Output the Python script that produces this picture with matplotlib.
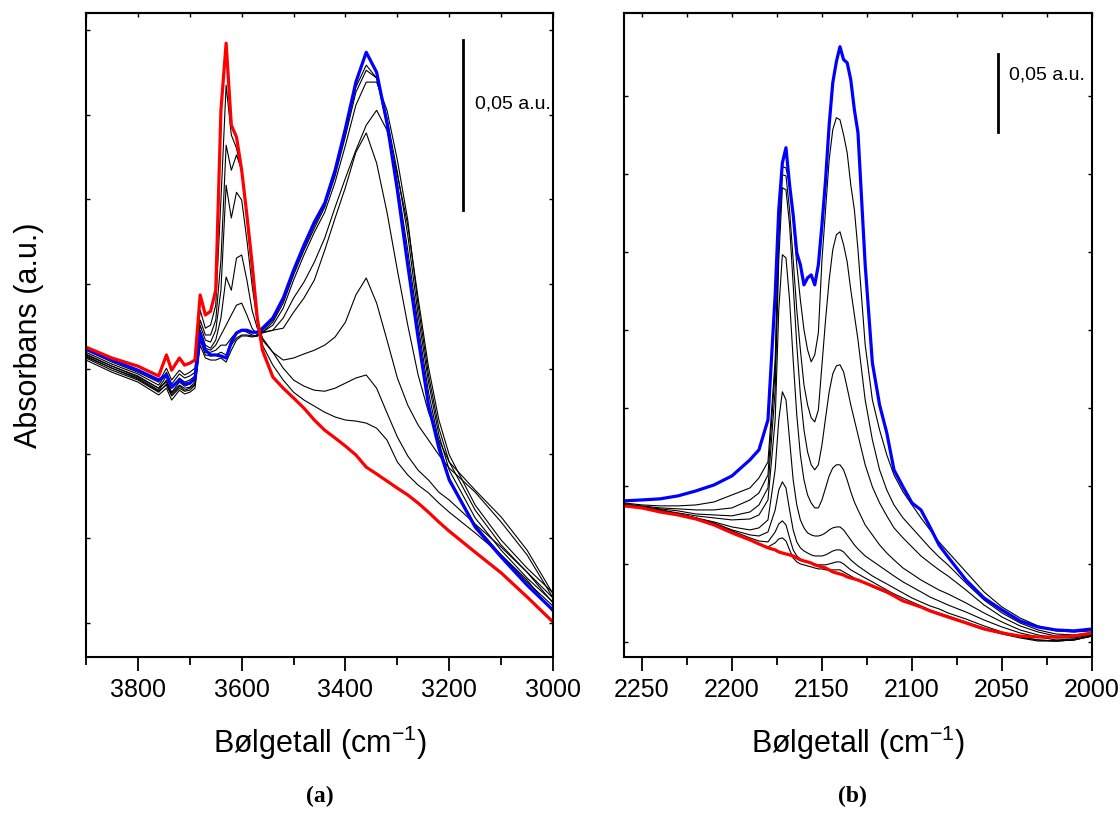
import numpy as np
import matplotlib.pyplot as plt

plt.rcParams['font.family'] = ['Liberation Sans', 'DejaVu Sans']
plt.rcParams['mathtext.default'] = 'regular'

# ---- (a) OH region: wavenumber (cm-1), absorbance in 1e-3 a.u. ----
wn_a = [3900, 3850, 3800, 3760, 3745, 3735, 3720, 3710, 3700, 3690,
        3680, 3670, 3660, 3650, 3640, 3630, 3620, 3610, 3600, 3590,
        3580, 3570, 3560, 3540, 3520, 3500, 3480, 3460, 3440, 3420,
        3400, 3380, 3360, 3340, 3320, 3300, 3280, 3260, 3240, 3220,
        3200, 3150, 3100, 3050, 3000]

red_a = [81.4, 78.2, 75.8, 72.9, 79.1, 74.6, 78.2, 76.1, 76.7, 77.6,
         96.8, 90.9, 92.0, 98.2, 151.3, 171.1, 146.9, 143.4, 133.6, 120.4,
         106.2, 90.0, 80.5, 72.6, 69.3, 66.4, 63.4, 59.9, 56.9, 54.6,
         52.2, 49.6, 46.0, 44.0, 41.9, 39.8, 37.8, 35.4, 32.7, 29.8,
         27.1, 20.9, 14.8, 7.7, 0.3]

blue_a = [80.8, 77.6, 74.6, 71.7, 73.2, 69.6, 71.7, 70.5, 70.8, 72.3,
          85.6, 80.5, 79.1, 79.1, 78.8, 78.2, 82.9, 85.6, 86.4, 86.4,
          85.8, 85.8, 87.0, 90.0, 95.9, 104.1, 111.5, 118.3, 123.9, 133.6,
          146.0, 159.6, 168.4, 162.5, 147.5, 127.7, 105.6, 84.1, 64.3, 51.6,
          42.2, 28.3, 19.5, 11.2, 3.8]

black_a = [
    [80.5, 77.0, 74.0, 71.1, 75.2, 71.7, 74.6, 73.2, 74.0, 75.2,
     92.3, 87.0, 87.9, 93.8, 124.8, 158.7, 144.0, 140.1, 133.0, 119.5,
     104.7, 89.4, 82.0, 76.1, 71.7, 68.1, 65.8, 64.0, 62.2, 60.8,
     59.9, 59.6, 59.0, 57.5, 54.0, 47.5, 43.7, 40.7, 38.4, 35.4,
     32.7, 26.6, 20.1, 12.7, 3.2],
    [79.9, 76.4, 73.5, 70.2, 74.0, 70.5, 73.5, 72.3, 72.9, 74.0,
     89.4, 85.0, 85.0, 89.4, 107.1, 141.0, 133.6, 138.1, 133.6, 118.9,
     103.5, 90.0, 83.5, 79.9, 75.2, 71.7, 69.9, 68.7, 68.4, 69.3,
     70.8, 72.3, 73.2, 69.3, 62.0, 54.9, 49.3, 45.1, 42.2, 38.6,
     36.3, 29.2, 22.4, 15.0, 5.9],
    [79.4, 75.8, 72.9, 69.3, 72.9, 69.3, 72.3, 71.1, 71.7, 72.9,
     87.9, 83.5, 82.9, 86.4, 98.2, 129.2, 119.5, 127.1, 124.8, 113.0,
     99.7, 88.8, 84.1, 79.9, 77.6, 78.2, 79.4, 80.5, 82.0, 84.4,
     88.8, 96.8, 101.8, 94.4, 83.5, 72.3, 64.3, 58.4, 54.0, 49.6,
     45.7, 38.6, 29.8, 20.1, 7.4],
    [78.8, 75.2, 72.3, 68.7, 71.7, 68.1, 71.1, 69.9, 70.5, 71.7,
     86.4, 82.0, 81.1, 83.5, 90.0, 102.1, 98.2, 107.7, 108.6, 101.2,
     92.3, 87.0, 85.8, 86.4, 87.0, 91.7, 95.9, 101.2, 110.0, 119.5,
     128.6, 138.9, 144.6, 135.7, 121.2, 104.1, 87.9, 73.2, 62.2, 54.0,
     47.5, 39.2, 31.3, 21.5, 8.6],
    [78.2, 74.6, 71.7, 68.1, 70.5, 67.3, 69.9, 68.7, 69.3, 70.5,
     85.0, 81.1, 80.5, 82.0, 85.0, 87.9, 90.9, 93.8, 94.4, 90.9,
     87.0, 85.0, 85.6, 86.4, 90.0, 95.9, 100.6, 106.5, 113.6, 122.7,
     131.3, 139.5, 146.9, 151.3, 145.4, 132.2, 117.4, 95.9, 75.5, 59.9,
     49.6, 34.8, 24.5, 16.2, 8.9],
    [79.1, 75.8, 72.6, 69.3, 71.1, 67.9, 70.2, 69.3, 69.6, 71.1,
     84.1, 79.9, 79.9, 80.5, 82.0, 82.0, 84.1, 85.8, 86.4, 85.8,
     85.0, 84.7, 85.8, 87.9, 92.9, 101.2, 108.6, 115.3, 121.2, 130.1,
     141.0, 152.8, 159.6, 159.6, 151.3, 136.6, 118.9, 93.8, 73.2, 57.5,
     47.5, 33.3, 23.0, 15.0, 7.4],
    [78.5, 75.2, 72.0, 68.4, 70.2, 67.0, 69.3, 68.4, 68.7, 70.2,
     83.5, 79.1, 78.8, 79.1, 79.9, 79.1, 82.0, 84.1, 85.0, 85.0,
     84.7, 84.7, 85.8, 88.8, 94.4, 102.7, 110.0, 116.5, 122.7, 131.9,
     143.7, 156.6, 163.1, 160.8, 149.0, 133.0, 114.5, 90.9, 71.1, 55.5,
     45.1, 31.0, 21.5, 13.3, 6.2],
    [77.6, 74.0, 71.1, 67.3, 69.3, 65.8, 68.7, 67.6, 68.1, 69.3,
     82.0, 78.2, 77.6, 77.6, 78.2, 77.0, 80.5, 83.5, 84.7, 84.7,
     84.4, 84.7, 86.4, 89.4, 95.3, 103.5, 110.6, 117.4, 123.3, 132.8,
     144.8, 158.1, 164.6, 160.8, 146.9, 129.8, 110.0, 87.9, 68.1, 53.4,
     42.8, 28.9, 20.1, 12.1, 5.0],
]

# ---- (b) CO region ----
wn_b = [2260, 2250, 2240, 2230, 2220, 2210, 2200, 2190, 2185, 2180,
        2176, 2174, 2172, 2170, 2168, 2166, 2164, 2162, 2160, 2158,
        2156, 2154, 2152, 2150, 2148, 2146, 2144, 2142, 2140, 2138,
        2136, 2134, 2132, 2130, 2126, 2122, 2118, 2114, 2110, 2105,
        2100, 2095, 2090, 2085, 2080, 2070, 2060, 2050, 2040, 2030,
        2020, 2010, 2000]

red_b = [87.2, 85.9, 83.3, 81.4, 78.8, 75.0, 69.9, 65.4, 62.8, 60.3,
         59.0, 57.7, 57.0, 56.4, 55.8, 55.1, 53.8, 52.6, 51.9, 51.3,
         50.6, 49.4, 48.7, 48.1, 47.4, 46.2, 44.9, 44.2, 43.6, 42.9,
         41.7, 41.0, 40.4, 39.7, 37.8, 35.9, 34.0, 32.1, 29.5, 26.3,
         24.4, 22.4, 19.9, 17.9, 16.0, 12.2, 8.3, 5.8, 3.8, 3.2,
         3.2, 3.8, 5.8]

blue_b = [90.4, 91.0, 91.7, 93.6, 96.8, 100.6, 106.4, 116.7, 123.1, 142.3,
          222.4, 276.9, 307.0, 316.7, 292.9, 273.7, 249.3, 241.7, 228.8, 233.3,
          235.2, 228.8, 241.7, 267.3, 296.1, 331.4, 358.3, 371.8, 381.4, 373.1,
          371.1, 360.2, 341.0, 326.3, 241.7, 178.8, 151.9, 134.0, 110.3, 99.4,
          89.1, 84.6, 73.7, 62.2, 54.5, 39.7, 28.2, 20.5, 13.5, 9.6,
          7.7, 7.1, 8.3]

black_b = [
    [87.2, 85.9, 84.6, 82.0, 79.5, 75.6, 70.5, 65.4, 62.8, 60.9,
     63.5, 66.0, 66.7, 64.7, 59.0, 53.8, 51.3, 50.0, 49.4, 48.7,
     48.1, 47.4, 46.8, 46.8, 46.2, 46.2, 46.2, 46.2, 46.2, 44.9,
     43.6, 42.3, 41.0, 39.7, 37.8, 35.3, 33.3, 31.4, 29.5, 26.9,
     24.4, 22.4, 19.9, 17.9, 16.0, 12.2, 8.3, 5.1, 2.6, 0.6,
     0.6, 1.3, 3.8],
    [87.8, 86.5, 84.6, 82.0, 79.5, 75.6, 71.2, 66.7, 64.7, 64.1,
     70.5, 75.6, 77.6, 75.0, 66.7, 59.0, 55.1, 53.2, 51.9, 51.3,
     50.6, 50.0, 49.4, 49.4, 49.4, 50.0, 50.6, 51.3, 51.3, 50.0,
     48.1, 46.2, 44.9, 43.6, 41.0, 38.5, 35.9, 33.3, 30.8, 28.2,
     25.6, 23.1, 20.5, 18.6, 16.7, 12.8, 9.0, 5.8, 3.2, 1.3,
     0.6, 1.3, 3.8],
    [87.8, 86.5, 84.6, 82.0, 79.5, 76.3, 71.8, 68.6, 67.9, 70.5,
     84.6, 97.4, 102.6, 98.7, 84.6, 71.8, 64.1, 60.3, 58.3, 57.0,
     55.8, 55.1, 55.1, 55.1, 55.8, 57.0, 58.3, 59.0, 59.0, 57.7,
     55.1, 52.6, 50.6, 48.7, 45.5, 42.3, 39.7, 37.2, 34.6, 31.4,
     28.2, 25.6, 23.1, 21.2, 18.6, 14.7, 10.3, 6.4, 3.2, 1.3,
     0.6, 1.3, 3.8],
    [87.8, 86.5, 84.6, 82.0, 79.5, 76.9, 73.7, 71.8, 73.1, 78.2,
     110.3, 142.3, 160.3, 155.1, 129.5, 103.8, 87.8, 78.2, 73.1, 69.9,
     68.6, 67.9, 67.9, 68.6, 69.9, 71.8, 73.1, 73.7, 73.7, 71.8,
     68.6, 65.4, 62.2, 59.6, 55.1, 51.9, 48.7, 45.5, 42.3, 38.5,
     35.3, 32.1, 28.8, 26.3, 23.7, 19.2, 14.1, 9.6, 5.8, 3.2,
     1.3, 1.9, 3.8],
    [87.8, 86.5, 84.6, 82.7, 80.8, 79.5, 78.2, 78.8, 81.4, 91.0,
     142.3, 212.8, 248.1, 246.1, 219.2, 180.8, 145.5, 119.9, 103.8, 94.2,
     89.1, 85.9, 85.9, 91.0, 98.7, 106.4, 111.5, 113.5, 113.5, 110.3,
     103.8, 96.2, 89.7, 84.6, 75.0, 68.6, 62.2, 57.0, 52.6, 47.4,
     43.6, 39.7, 36.5, 33.3, 30.8, 25.0, 18.6, 12.8, 7.7, 4.5,
     2.6, 2.6, 4.5],
    [88.5, 86.5, 85.3, 84.0, 82.0, 81.4, 80.8, 83.3, 87.8, 98.7,
     161.5, 244.9, 291.0, 289.7, 267.3, 228.8, 190.4, 158.3, 135.9, 121.8,
     113.5, 110.3, 113.5, 126.3, 143.6, 160.3, 171.8, 176.9, 177.6, 173.1,
     162.8, 151.9, 142.3, 132.7, 113.5, 99.4, 89.1, 80.8, 73.1, 66.7,
     60.9, 55.1, 50.6, 46.2, 42.3, 33.3, 23.7, 16.0, 10.3, 6.4,
     3.8, 3.2, 5.1],
    [88.5, 87.2, 85.9, 85.3, 84.6, 84.6, 85.9, 91.0, 95.5, 107.0,
     174.4, 257.7, 299.3, 298.7, 276.9, 244.9, 212.8, 187.2, 164.7, 151.9,
     143.6, 141.0, 148.7, 177.6, 206.4, 232.0, 251.3, 260.9, 262.8, 254.5,
     243.6, 225.6, 209.6, 193.6, 155.1, 129.5, 110.3, 97.4, 87.8, 79.5,
     73.1, 66.7, 60.3, 54.5, 49.4, 37.8, 26.9, 18.6, 12.2, 7.7,
     5.1, 4.5, 5.8],
    [89.1, 87.8, 87.2, 87.2, 87.8, 89.7, 94.2, 98.7, 105.1, 115.4,
     180.8, 264.1, 304.5, 303.8, 292.9, 270.5, 241.7, 219.2, 200.0, 187.2,
     179.5, 184.0, 198.1, 244.9, 276.9, 309.0, 328.2, 335.9, 334.6, 325.0,
     313.4, 292.9, 276.9, 251.3, 190.4, 155.1, 135.9, 119.9, 107.0, 96.2,
     87.8, 79.5, 71.8, 64.1, 57.7, 44.9, 32.1, 22.4, 15.4, 10.3,
     7.1, 6.4, 7.1],
]


def style_axis(ax, major, minor, top, yticks):
    ax.set_xticks(major)
    ax.set_xticks(minor, minor=True)
    ax.set_yticks(yticks)
    ax.tick_params(axis='x', which='major', direction='out', length=10,
                   width=1.3, labelsize=18, pad=5)
    ax.tick_params(axis='x', which='minor', direction='out', length=6, width=1.3)
    ax.tick_params(axis='y', which='major', direction='in', length=3, width=1.0,
                   left=True, right=True, labelleft=False)
    for s in ax.spines.values():
        s.set_linewidth(1.5)
    sec = ax.secondary_xaxis('top')
    sec.set_xticks(top)
    sec.tick_params(direction='in', length=3, width=1.0, labeltop=False)
    sec.spines['top'].set_linewidth(1.5)


fig = plt.figure(figsize=(11.2, 8.16), dpi=100)
ax1 = fig.add_axes([0.0768, 0.1949, 0.417, 0.7892])
ax2 = fig.add_axes([0.5571, 0.1949, 0.4179, 0.7892])

for y in black_a:
    ax1.plot(wn_a, y, color='black', lw=0.8)
ax1.plot(wn_a, blue_a, color='#0000ff', lw=2.3)
ax1.plot(wn_a, red_a, color='#ff0000', lw=2.3)

for y in black_b:
    ax2.plot(wn_b, y, color='black', lw=0.8)
ax2.plot(wn_b, blue_b, color='#0000ff', lw=2.3)
ax2.plot(wn_b, red_b, color='#ff0000', lw=2.3)

ax1.set_xlim(3900, 3000)
ax1.set_ylim(-10, 180)
ax2.set_xlim(2260, 2000)
ax2.set_ylim(-9.6, 403)

style_axis(ax1, [3800, 3600, 3400, 3200, 3000], [3900, 3700, 3500, 3300, 3100],
           np.arange(3900, 2999, -100), np.arange(0, 176, 25))
style_axis(ax2, [2250, 2200, 2150, 2100, 2050, 2000], [2225, 2175, 2125, 2075, 2025],
           np.arange(2250, 1999, -25), np.arange(0, 351, 50))

# 0,05 a.u. scale bars
ax1.plot([3173, 3173], [122, 172], color='black', lw=2)
ax1.text(3151, 153, '0,05 a.u.', fontsize=14, va='center')
ax2.plot([2052, 2052], [327, 377], color='black', lw=2)
ax2.text(2046, 363, '0,05 a.u.', fontsize=14, va='center')

ax1.set_ylabel('Absorbans (a.u.)', fontsize=22, labelpad=30)
ax1.set_xlabel('Bølgetall (cm$^{-1}$)', fontsize=22, labelpad=16)
ax2.set_xlabel('Bølgetall (cm$^{-1}$)', fontsize=22, labelpad=16)

fig.text(0.2857, 0.017, '(a)', fontsize=17, fontweight='bold',
         family='Liberation Serif', ha='center')
fig.text(0.7607, 0.017, '(b)', fontsize=17, fontweight='bold',
         family='Liberation Serif', ha='center')

fig.savefig('out.png', dpi=100)
